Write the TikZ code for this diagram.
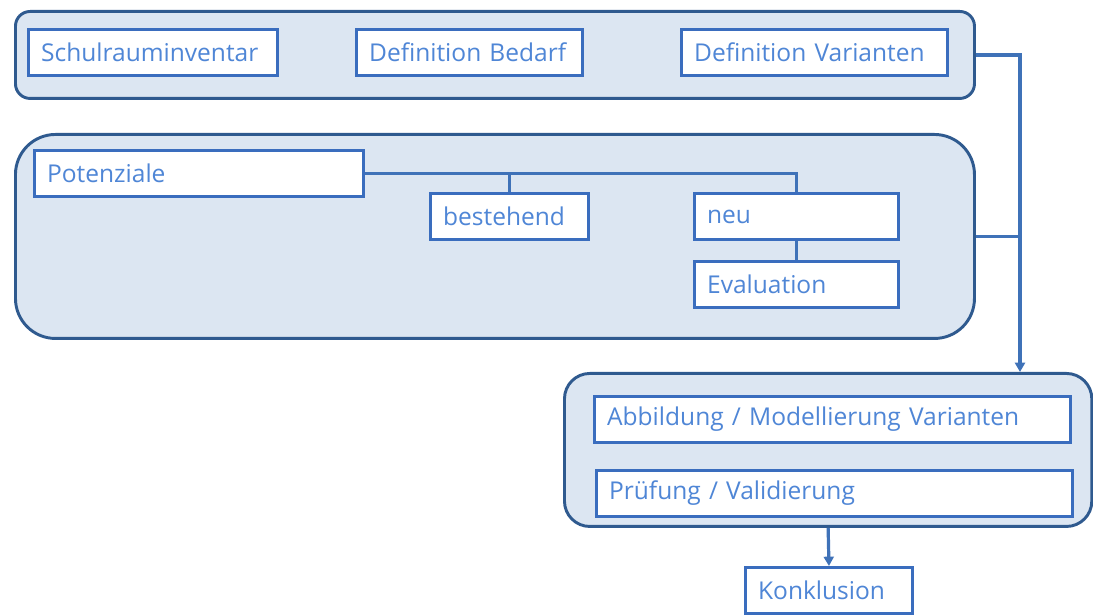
\documentclass[tikz,border=0pt]{standalone}
\usepackage{fontspec}
\setmainfont{Open Sans}
\usetikzlibrary{arrows.meta}
\definecolor{contborder}{HTML}{2F5A8F}
\definecolor{contfill}{HTML}{DCE6F2}
\definecolor{boxborder}{HTML}{3A6DBE}
\definecolor{txtcol}{HTML}{4F86D6}
\definecolor{conncol}{HTML}{3F72B8}
\tikzset{
  cont/.style={draw=contborder, fill=contfill, line width=2.2pt, anchor=north west, inner sep=0pt},
  boxnode/.style={draw=boxborder, fill=white, line width=2.2pt, anchor=north west, inner xsep=9.5pt, inner ysep=0pt,
    minimum height=34.5pt, align=left, text=txtcol, font=\fontsize{18.4}{21}\selectfont, text width=#1},
  conn/.style={draw=conncol, line width=2.4pt},
  arr/.style={conn, -{Triangle[length=7pt,width=7.5pt]}}
}
\begin{document}
\begin{tikzpicture}[x=0.75pt,y=-0.75pt]
\useasboundingbox (0,0) rectangle (1093,616);
% containers
\node[cont, rounded corners=11pt, minimum width=719.25pt, minimum height=65.25pt] (c1) at (14,10) {};
\node[cont, rounded corners=30pt, minimum width=719.25pt, minimum height=153pt] (c2) at (14,133) {};
\node[cont, rounded corners=19pt, minimum width=395.5pt, minimum height=114.75pt] (c3) at (563,372) {};
% top boxes
\node[boxnode=167.75pt] (schul) at (27,28) {Schulrauminventar};
\node[boxnode=150.5pt] (bedarf) at (355,28) {Definition Bedarf};
\node[boxnode=180.5pt] (var) at (680,28) {Definition Varianten};
% middle boxes
\node[boxnode=227.75pt] (pot) at (33,149) {Potenziale};
\node[boxnode=99.5pt] (best) at (429,192) {bestehend};
\node[boxnode=134pt] (neu) at (693,192) {neu};
\node[boxnode=134pt] (eval) at (693,260) {Evaluation};
% bottom boxes
\node[boxnode=338pt] (abb) at (593,395) {Abbildung / Modellierung Varianten};
\node[boxnode=338pt] (pruef) at (595,469) {Prüfung / Validierung};
\node[boxnode=106.25pt] (konk) at (744,566) {Konklusion};
% connectors
\coordinate (a3) at (1020,372);
\draw[arr] (c1.east) -| (a3);
\draw[conn] (c2.east) -- (c2.east -| a3);
\draw[conn] (pot.east) -| (neu.north);
\draw[conn] (pot.east -| best.north) -- (best.north);
\draw[conn] (neu.south) -- (eval.north);
\draw[arr] (c3.south) -- (konk.north);
\end{tikzpicture}
\end{document}
